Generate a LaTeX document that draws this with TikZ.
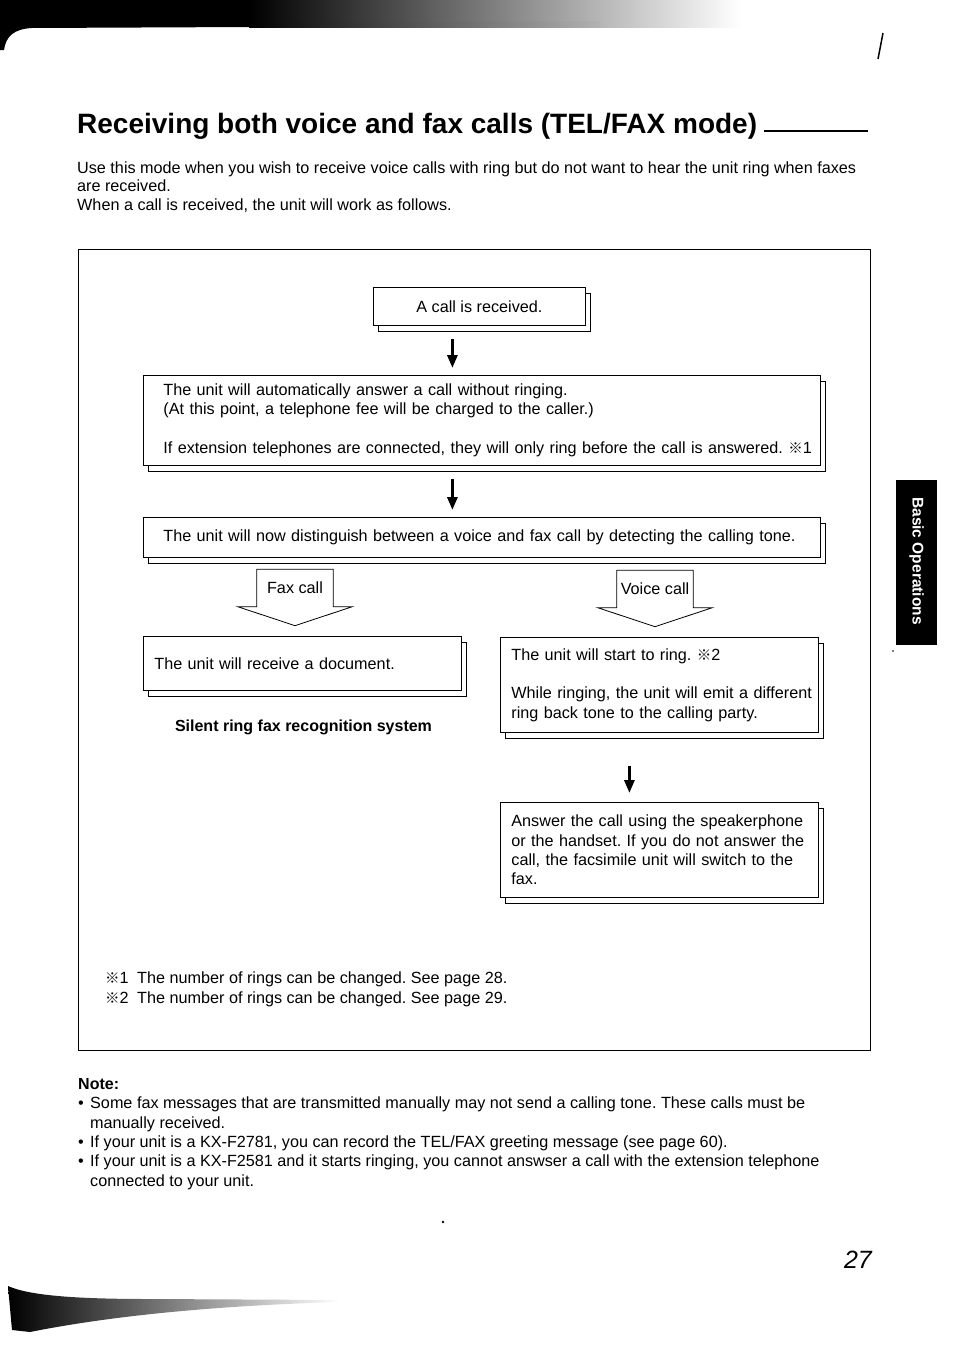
\documentclass[tikz,border=0pt]{standalone}
\usepackage{fontspec}
\setmainfont{Liberation Sans}
\newfontfamily\cjk{Noto Sans CJK JP}
\usetikzlibrary{arrows.meta}
\usetikzlibrary{shadows}
\newcommand{\refmark}{{\cjk\fontsize{14.5}{14.5}\selectfont ※}}
\newcommand{\itemdot}{\makebox[12pt][l]{•}}
\tikzset{
	flowbox/.style={draw, fill=white, line width=0.8pt, anchor=north west, inner ysep=0pt,
		copy shadow={shadow xshift=5pt, shadow yshift=-6pt, fill=white, draw=black}},
	widebox/.style={flowbox, minimum width=677pt, inner xsep=20pt, text width=637pt, align=left},
	halfbox/.style={flowbox, minimum width=318pt, inner xsep=11pt, text width=296pt, align=left},
	flow/.style={line width=3pt, -{Triangle[length=13pt, width=10pt]}},
	callout/.style={minimum width=76pt, minimum height=37pt, inner sep=0pt},
	plain/.style={anchor=base west, inner sep=0pt}
}

\begin{document}
\frenchspacing
\begin{tikzpicture}[x=1pt, y=-1pt, font=\fontsize{16.2}{19.3}\selectfont]
	\useasboundingbox (0,0) rectangle (954,1349);
	\fill (0,0) -- (250,0) -- (250,27) -- (32,28) .. controls (14,29) and (6,36) .. (4,50) -- (0,50) -- cycle;
	\begin{scope}[y=1pt]
		\shade[left color=black, middle color=black!60, right color=white] (249,0) rectangle (740,-27);
		\shade[left color=black, right color=black!30] (249,-21) rectangle (600,-27);
		\shade[left color=black, right color=white] (8,-1286) .. controls (30,-1296) and (80,-1299) .. (150,-1299) -- (340,-1300) -- (340,-1302) .. controls (200,-1306) and (100,-1318) .. (30,-1332) -- (12,-1330) -- cycle;
	\end{scope}
	\draw[line width=1.5pt] (883,33) -- (878,59);
	\node[plain, font=\bfseries\fontsize{28}{33}\selectfont] (title) at (77,133) {Receiving both voice and fax calls (TEL/FAX mode)};
	\draw[line width=2.2pt] (764,131) -- (868,131);
	\node[plain, align=left, font=\fontsize{16.2}{18}\selectfont] (intro) at (77,191) {Use this mode when you wish to receive voice calls with ring but do not want to hear the unit ring when faxes\\are received.};
	\node[plain] (intro2) at (77,210) {When a call is received, the unit will work as follows.};
	\draw[line width=1pt] (78,249) rectangle (870,1050);
	\node[flowbox, minimum width=212pt, minimum height=38pt] (recv) at (373,287) {A call is received.};
	\node[widebox, minimum height=90pt] (answer) at (143,375) {The unit will automatically answer a call without ringing.\\(At this point, a telephone fee will be charged to the caller.)\\[19.3pt]\mbox{If extension telephones are connected, they will only ring before the call is answered. \refmark1}};
	\node[widebox, minimum height=40pt] (detect) at (143,517) {The unit will now distinguish between a voice and fax call by detecting the calling tone.};
	\draw[flow] ([xshift=-27pt, yshift=-13pt]recv.south) -- ([xshift=-29.5pt, yshift=7pt]answer.north);
	\draw[flow] ([xshift=-29.5pt, yshift=-13pt]answer.south) -- ([xshift=-29.5pt, yshift=7pt]detect.north);
	\node[callout] (fax) at (295,588) {Fax call};
	\draw[line width=0.8pt] (fax.south west) -- (fax.north west) -- (fax.north east) -- (fax.south east) -- ++(19,0) -- ([yshift=-19pt]fax.south) -- ([xshift=-19pt]fax.south west) -- cycle;
	\node[callout] (voice) at (655,589) {Voice call};
	\draw[line width=0.8pt] (voice.south west) -- (voice.north west) -- (voice.north east) -- (voice.south east) -- ++(19,0) -- ([yshift=-19pt]voice.south) -- ([xshift=-19pt]voice.south west) -- cycle;
	\node[halfbox, minimum height=54pt] (faxdoc) at (143,636) {The unit will receive a document.};
	\node[anchor=base, inner sep=0pt, font=\bfseries\fontsize{16}{19.3}\selectfont] (silent) at (303.5,731) {Silent ring fax recognition system};
	\node[halfbox, minimum height=95pt] (ring) at (500,637) {The unit will start to ring. \refmark2\\[19.3pt]\mbox{While ringing, the unit will emit a different}\\ring back tone to the calling party.};
	\node[halfbox, minimum height=95pt] (reply) at (500,802) {Answer the call using the speakerphone\\or the handset. If you do not answer the\\call, the facsimile unit will switch to the\\fax.};
	\draw[flow] ([xshift=-30pt, yshift=-33pt]ring.south) -- ([xshift=-30pt, yshift=9pt]reply.north);
	\node[plain, align=left] (remarks) at (105,1003) {\makebox[32pt][l]{\refmark1}The number of rings can be changed. See page 28.\\\makebox[32pt][l]{\refmark2}The number of rings can be changed. See page 29.};
	\node[plain, font=\bfseries\fontsize{16}{19.3}\selectfont] (note) at (78,1089) {Note:};
	\node[plain, align=left] (notes) at (78,1186) {\itemdot Some fax messages that are transmitted manually may not send a calling tone. These calls must be\\\hspace*{12pt}manually received.\\\itemdot If your unit is a KX-F2781, you can record the TEL/FAX greeting message (see page 60).\\\itemdot If your unit is a KX-F2581 and it starts ringing, you cannot answser a call with the extension telephone\\\hspace*{12pt}connected to your unit.};
	\fill (896,480) rectangle (937,645);
	\node[rotate=-90, text=white, inner sep=0pt, font=\bfseries\fontsize{15.5}{18}\selectfont] (tab) at (916.5,561) {Basic Operations};
	\fill (893,651) circle (0.8pt);
	\fill (443,1222) circle (1.3pt);
	\node[anchor=base east, inner sep=0pt, font=\itshape\fontsize{25}{25}\selectfont] (page) at (872,1268) {27};
\end{tikzpicture}
\end{document}
